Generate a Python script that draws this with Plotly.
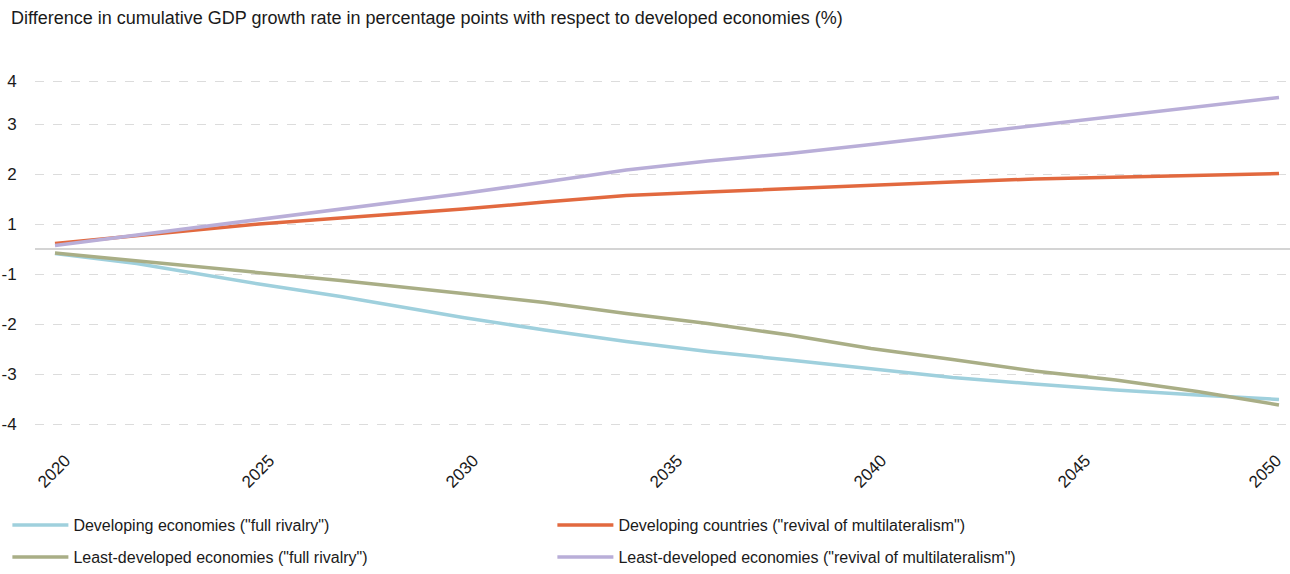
import plotly.graph_objects as go

years = [2020, 2022, 2025, 2027, 2030, 2032, 2034, 2036, 2038, 2040, 2042, 2044, 2046, 2048, 2050]

dev_full_rivalry = [-0.09, -0.29, -0.70, -0.95, -1.37, -1.62, -1.85, -2.05, -2.22, -2.39, -2.57, -2.70, -2.82, -2.92, -3.01]
dev_multilateralism = [0.11, 0.27, 0.50, 0.62, 0.80, 0.94, 1.07, 1.14, 1.21, 1.27, 1.34, 1.40, 1.44, 1.48, 1.51]
ldc_full_rivalry = [-0.08, -0.24, -0.47, -0.63, -0.89, -1.07, -1.29, -1.49, -1.72, -1.99, -2.21, -2.44, -2.62, -2.85, -3.12]
ldc_multilateralism = [0.07, 0.28, 0.59, 0.80, 1.11, 1.34, 1.58, 1.76, 1.91, 2.09, 2.28, 2.47, 2.65, 2.84, 3.03]

series_names = [
    'Developing economies ("full rivalry")',
    'Developing countries ("revival of multilateralism")',
    'Least-developed economies ("full rivalry")',
    'Least-developed economies ("revival of multilateralism")',
]
series_values = [dev_full_rivalry, dev_multilateralism, ldc_full_rivalry, ldc_multilateralism]
series_colors = ["#9fd0dd", "#e2693f", "#a9ae86", "#b9aed8"]
series_legends = ["legend", "legend", "legend2", "legend2"]

y_tick_vals = [3.35, 2.5, 1.5, 0.5, -0.5, -1.5, -2.5, -3.5]
y_tick_text = ["4", "3", "2", "1", "-1", "-2", "-3", "-4"]
x_tick_vals = [2020, 2025, 2030, 2035, 2040, 2045, 2050]

title_text = "Difference in cumulative GDP growth rate in percentage points with respect to developed economies (%)"

FONT = "Liberation Sans, Arial, sans-serif"
TXT = "#1a1a1a"

fig = go.Figure()
for name, vals, col, lg in zip(series_names, series_values, series_colors, series_legends):
    fig.add_trace(go.Scatter(x=years, y=vals, mode="lines", name=name, legend=lg,
                             line=dict(color=col, width=3.5)))

fig.add_hline(y=0, line=dict(color="#d4d4d4", width=2), layer="below")

annotations = [dict(text=title_text, xref="paper", yref="paper", x=-0.021, y=1.0,
                    xanchor="left", yanchor="bottom", yshift=45, showarrow=False,
                    font=dict(size=18, color=TXT))]
for i, yr in enumerate(x_tick_vals):
    last = i == len(x_tick_vals) - 1
    annotations.append(dict(text=str(yr), xref="x", yref="paper", x=yr, y=0,
                            xanchor="right" if last else "center", yanchor="middle",
                            yshift=-41, xshift=9 if last else -1,
                            textangle=-45, showarrow=False,
                            font=dict(size=17, color=TXT)))

legend_common = dict(orientation="h", xanchor="left", yanchor="middle",
                     entrywidth=474, entrywidthmode="pixels", traceorder="normal",
                     font=dict(size=16, color=TXT), itemwidth=56,
                     bgcolor="rgba(0,0,0,0)")

fig.update_layout(
    width=1290, height=574,
    margin=dict(l=35, r=0, t=75, b=144),
    paper_bgcolor="white", plot_bgcolor="white",
    font=dict(family=FONT, size=15, color=TXT),
    showlegend=True,
    legend=dict(x=-0.022, y=-0.2676, **legend_common),
    legend2=dict(x=-0.022, y=-0.3577, **legend_common),
    annotations=annotations,
)

fig.update_xaxes(range=[2019.51, 2050.27], tickvals=x_tick_vals, showticklabels=False,
                 showgrid=False, zeroline=False, showline=False, ticks="")
fig.update_yaxes(range=[-3.62, 3.48], tickvals=y_tick_vals, ticktext=y_tick_text,
                 showgrid=True, gridcolor="#dcdcdc", griddash="dash", gridwidth=1,
                 zeroline=False, showline=False, ticks="outside", ticklen=14,
                 tickcolor="rgba(0,0,0,0)", tickfont=dict(size=17, color=TXT))

fig.write_html("out.html")
